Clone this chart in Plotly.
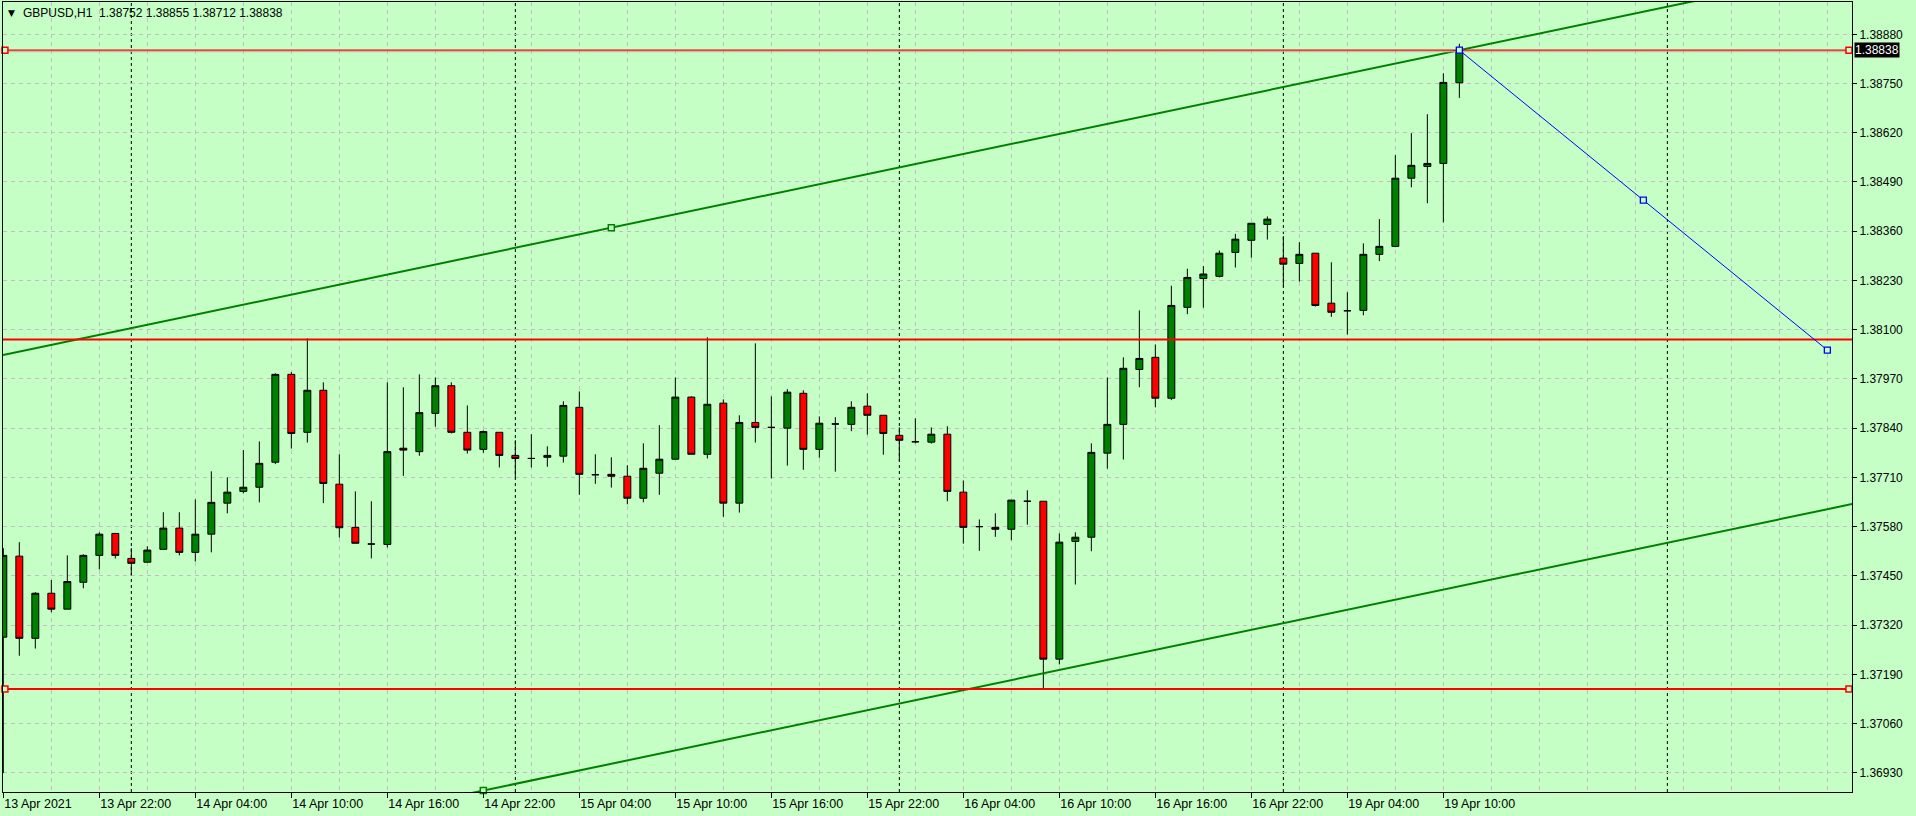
import plotly.graph_objects as go

# ---------------- data ----------------
bar_index = list(range(92))

opens = [1.37288, 1.37502, 1.37285, 1.37404, 1.37362, 1.37433, 1.37504, 1.37562, 1.37496, 1.37486,
         1.37520, 1.37576, 1.37512, 1.37560, 1.37642, 1.37673, 1.37684, 1.37750, 1.37982, 1.37829,
         1.37940, 1.37692, 1.37578, 1.37534, 1.37533, 1.37787, 1.37778, 1.37879, 1.37952, 1.37829,
         1.37784, 1.37829, 1.37768, 1.37760, 1.37763, 1.37766, 1.37895, 1.37717, 1.37718, 1.37713,
         1.37655, 1.37721, 1.37758, 1.37922, 1.37771, 1.37906, 1.37642, 1.37855, 1.37842, 1.37840,
         1.37932, 1.37784, 1.37851, 1.37850, 1.37898, 1.37874, 1.37821, 1.37804, 1.37803, 1.37824,
         1.37671, 1.37580, 1.37578, 1.37573, 1.37647, 1.37647, 1.37230, 1.37541, 1.37552, 1.37774,
         1.37850, 1.37995, 1.38027, 1.37919, 1.38159, 1.38235, 1.38241, 1.38304, 1.38336, 1.38378,
         1.38289, 1.38275, 1.38302, 1.38170, 1.38150, 1.38151, 1.38299, 1.38320, 1.38500, 1.38531,
         1.38539, 1.38752]
highs = [1.37523, 1.37539, 1.37407, 1.37439, 1.37504, 1.37507, 1.37565, 1.37562, 1.37523, 1.37528,
         1.37618, 1.37618, 1.37652, 1.37726, 1.37710, 1.37782, 1.37805, 1.37985, 1.37988, 1.38077,
         1.37961, 1.37771, 1.37673, 1.37647, 1.37961, 1.37948, 1.37982, 1.37974, 1.37961, 1.37900,
         1.37834, 1.37829, 1.37808, 1.37824, 1.37792, 1.37911, 1.37937, 1.37771, 1.37763, 1.37742,
         1.37800, 1.37848, 1.37974, 1.37924, 1.38080, 1.37916, 1.37874, 1.38064, 1.37924, 1.37943,
         1.37940, 1.37871, 1.37869, 1.37911, 1.37932, 1.37874, 1.37842, 1.37866, 1.37842, 1.37845,
         1.37702, 1.37599, 1.37615, 1.37650, 1.37676, 1.37647, 1.37562, 1.37565, 1.37800, 1.37974,
         1.38027, 1.38151, 1.38061, 1.38216, 1.38261, 1.38268, 1.38309, 1.38353, 1.38381, 1.38399,
         1.38347, 1.38331, 1.38302, 1.38278, 1.38199, 1.38328, 1.38392, 1.38561, 1.38619, 1.38669,
         1.38777, 1.38855]
lows = [1.36929, 1.37239, 1.37258, 1.37354, 1.37362, 1.37417, 1.37467, 1.37496, 1.37451, 1.37486,
        1.37520, 1.37504, 1.37488, 1.37512, 1.37615, 1.37668, 1.37644, 1.37745, 1.37786, 1.37802,
        1.37642, 1.37551, 1.37536, 1.37496, 1.37525, 1.37714, 1.37767, 1.37844, 1.37826, 1.37773,
        1.37775, 1.37736, 1.37708, 1.37736, 1.37738, 1.37749, 1.37664, 1.37693, 1.37683, 1.37639,
        1.37644, 1.37664, 1.37758, 1.37771, 1.37760, 1.37606, 1.37617, 1.37802, 1.37707, 1.37741,
        1.37730, 1.37762, 1.37725, 1.37832, 1.37823, 1.37770, 1.37754, 1.37800, 1.37799, 1.37647,
        1.37535, 1.37516, 1.37553, 1.37544, 1.37585, 1.37151, 1.37216, 1.37427, 1.37515, 1.37733,
        1.37757, 1.37948, 1.37895, 1.37914, 1.38141, 1.38158, 1.38238, 1.38264, 1.38290, 1.38338,
        1.38214, 1.38227, 1.38161, 1.38134, 1.38087, 1.38138, 1.38281, 1.38318, 1.38476, 1.38434,
        1.38383, 1.38712]
closes = [1.37504, 1.37285, 1.37404, 1.37362, 1.37435, 1.37504, 1.37560, 1.37504, 1.37483, 1.37518,
          1.37576, 1.37512, 1.37560, 1.37644, 1.37671, 1.37684, 1.37747, 1.37982, 1.37826, 1.37940,
          1.37694, 1.37577, 1.37536, 1.37534, 1.37778, 1.37782, 1.37881, 1.37952, 1.37829, 1.37782,
          1.37831, 1.37768, 1.37760, 1.37760, 1.37768, 1.37900, 1.37718, 1.37717, 1.37713, 1.37655,
          1.37734, 1.37758, 1.37922, 1.37771, 1.37903, 1.37642, 1.37855, 1.37842, 1.37842, 1.37935,
          1.37784, 1.37853, 1.37851, 1.37895, 1.37874, 1.37826, 1.37808, 1.37804, 1.37824, 1.37673,
          1.37578, 1.37580, 1.37573, 1.37650, 1.37647, 1.37230, 1.37539, 1.37552, 1.37776, 1.37850,
          1.37998, 1.38024, 1.37919, 1.38164, 1.38238, 1.38247, 1.38302, 1.38339, 1.38381, 1.38392,
          1.38273, 1.38299, 1.38164, 1.38146, 1.38150, 1.38299, 1.38320, 1.38500, 1.38534, 1.38539,
          1.38753, 1.38838]

x_tick_bars = [0, 6, 12, 18, 24, 30, 36, 42, 48, 54, 60, 66, 72, 78, 84, 90]
x_tick_labels = ["13 Apr 2021", "13 Apr 22:00", "14 Apr 04:00", "14 Apr 10:00", "14 Apr 16:00",
                 "14 Apr 22:00", "15 Apr 04:00", "15 Apr 10:00", "15 Apr 16:00", "15 Apr 22:00",
                 "16 Apr 04:00", "16 Apr 10:00", "16 Apr 16:00", "16 Apr 22:00", "19 Apr 04:00",
                 "19 Apr 10:00"]
y_tick_values = [1.36930, 1.37060, 1.37190, 1.37320, 1.37450, 1.37580, 1.37710, 1.37840,
                 1.37970, 1.38100, 1.38230, 1.38360, 1.38490, 1.38620, 1.38750, 1.38880]
day_separators = [8, 32, 56, 80, 104]

# horizontal levels
level_top = 1.38838
level_mid = 1.38074
level_low = 1.37151
bid_price = 1.38838

# channel lines (anchor bar, anchor price, slope per bar)
upper_anchor = (91, 1.38838)
upper_mid_marker_bar = 38
lower_anchor = (30, 1.36883)
channel_slope = 0.00008843

# blue trend line
blue_start = (91, 1.38838)
blue_end = (114, 1.38046)

title_text = "GBPUSD,H1  1.38752 1.38855 1.38712 1.38838"

# ---------------- style ----------------
BG = "#C5FFC5"
GRID = "#C4BCC6"
FONT = "Liberation Sans, Arial, sans-serif"
X_MIN, X_MAX = -0.02, 115.54
Y_MIN, Y_MAX = 1.368792, 1.389653

fig = go.Figure()

fig.add_trace(go.Candlestick(
    x=bar_index, open=opens, high=highs, low=lows, close=closes,
    increasing=dict(fillcolor="#008000", line=dict(color="black", width=1)),
    decreasing=dict(fillcolor="#FF0000", line=dict(color="black", width=1)),
    whiskerwidth=0, showlegend=False, hoverinfo="skip",
))

xs_full = [X_MIN, X_MAX]

def chan(anchor, xv):
    return anchor[1] + channel_slope * (xv - anchor[0])

# channel lines
for anc in (upper_anchor, lower_anchor):
    fig.add_trace(go.Scatter(x=xs_full, y=[chan(anc, v) for v in xs_full], mode="lines",
                             line=dict(color="#008000", width=2), showlegend=False, hoverinfo="skip"))

# horizontal lines
fig.add_trace(go.Scatter(x=xs_full, y=[bid_price - 0.00004] * 2, mode="lines",
                         line=dict(color="#B4B4B4", width=1), showlegend=False, hoverinfo="skip"))
fig.add_trace(go.Scatter(x=xs_full, y=[level_top] * 2, mode="lines",
                         line=dict(color="#FF0000", width=1.2), showlegend=False, hoverinfo="skip"))
fig.add_trace(go.Scatter(x=xs_full, y=[level_mid] * 2, mode="lines",
                         line=dict(color="#FF0000", width=2), showlegend=False, hoverinfo="skip"))
fig.add_trace(go.Scatter(x=xs_full, y=[level_low] * 2, mode="lines",
                         line=dict(color="#FF0000", width=2), showlegend=False, hoverinfo="skip"))

# blue trend line
fig.add_trace(go.Scatter(x=[blue_start[0], blue_end[0]], y=[blue_start[1], blue_end[1]], mode="lines",
                         line=dict(color="#0000FF", width=1), showlegend=False, hoverinfo="skip"))

# selection markers
sq = dict(symbol="square", size=6, color=BG, line=dict(width=1.3))
fig.add_trace(go.Scatter(x=[0.1, 115.35, 0.1, 115.35], y=[level_top, level_top, level_low, level_low],
                         mode="markers", marker=dict(sq, line=dict(color="#FF0000", width=1.5)),
                         cliponaxis=False, showlegend=False, hoverinfo="skip"))
fig.add_trace(go.Scatter(x=[upper_mid_marker_bar, lower_anchor[0]],
                         y=[chan(upper_anchor, upper_mid_marker_bar), chan(lower_anchor, lower_anchor[0])],
                         mode="markers", marker=dict(sq, line=dict(color="#008000", width=1.5)),
                         cliponaxis=False, showlegend=False, hoverinfo="skip"))
bmid = ((blue_start[0] + blue_end[0]) / 2, (blue_start[1] + blue_end[1]) / 2)
fig.add_trace(go.Scatter(x=[blue_start[0], bmid[0], blue_end[0]], y=[blue_start[1], bmid[1], blue_end[1]],
                         mode="markers", marker=dict(sq, line=dict(color="#0000FF", width=1.3)),
                         cliponaxis=False, showlegend=False, hoverinfo="skip"))

shapes = []
for b in day_separators:
    shapes.append(dict(type="line", xref="x", yref="paper", x0=b, x1=b, y0=0, y1=1,
                       line=dict(color="black", width=1, dash="3px,3px"), layer="below"))

annotations = [
    dict(xref="paper", yref="paper", x=0, y=1, xanchor="left", yanchor="middle", xshift=3, yshift=-11,
         text="▼", showarrow=False, font=dict(family="DejaVu Sans", size=9, color="black")),
    dict(xref="paper", yref="paper", x=0, y=1, xanchor="left", yanchor="middle", xshift=18, yshift=-11,
         text=title_text.replace("  ", "&nbsp;&nbsp;"), showarrow=False,
         font=dict(family=FONT, size=12, color="black")),
    dict(xref="paper", yref="y", x=1, y=bid_price, xanchor="left", yanchor="middle", xshift=2,
         text="%.5f" % bid_price, showarrow=False, bgcolor="black", borderpad=0,
         font=dict(family=FONT, size=12, color="white")),
]

fig.update_layout(
    width=1916, height=816,
    margin=dict(l=3, r=64, t=2, b=24, pad=0),
    paper_bgcolor=BG, plot_bgcolor=BG,
    boxgap=0.38,
    shapes=shapes, annotations=annotations,
    showlegend=False,
    xaxis=dict(
        range=[X_MIN, X_MAX], rangeslider=dict(visible=False),
        tickmode="array", tickvals=x_tick_bars, ticktext=x_tick_labels,
        ticks="outside", ticklen=5, tickcolor="black", tickwidth=1,
        ticklabelposition="outside right",
        tickfont=dict(family=FONT, size=12.5, color="black"),
        showgrid=True, gridcolor=GRID, griddash="4px,4px", gridwidth=1,
        minor=dict(tickmode="linear", tick0=0, dtick=3, showgrid=True, gridcolor=GRID,
                   griddash="4px,4px", gridwidth=1),
        showline=True, linecolor="black", linewidth=1, mirror=True, zeroline=False,
    ),
    yaxis=dict(
        side="right", range=[Y_MIN, Y_MAX],
        tickmode="array", tickvals=y_tick_values, ticktext=["%.5f" % v for v in y_tick_values],
        ticks="outside", ticklen=4, tickcolor="black", tickwidth=1,
        tickfont=dict(family=FONT, size=12, color="black"),
        showgrid=True, gridcolor=GRID, griddash="4px,4px", gridwidth=1,
        showline=True, linecolor="black", linewidth=1, mirror=True, zeroline=False,
    ),
)

fig.write_html("out.html", config={"displayModeBar": False},
               post_script="document.body.style.margin='0';document.body.style.overflow='hidden';")
